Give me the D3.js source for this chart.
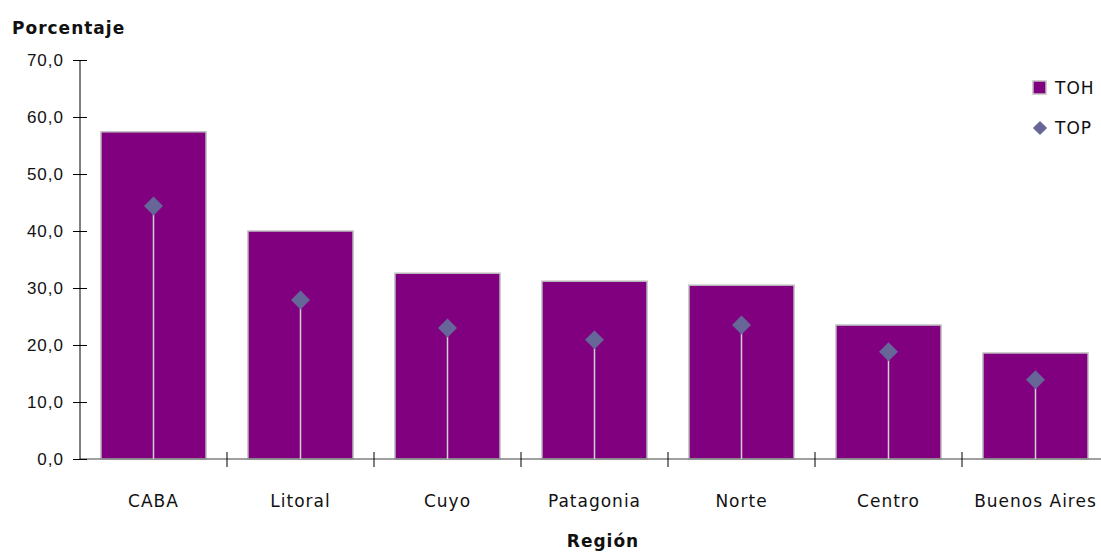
<!DOCTYPE html>
<html><head><meta charset="utf-8">
<script src="https://cdn.jsdelivr.net/npm/d3@7"></script>
<style>body{margin:0;background:#fff;}svg{display:block;font-family:"DejaVu Sans",sans-serif;}</style>
</head><body>
<svg id="c" width="1101" height="554"></svg>
<script>
const categories = ["CABA","Litoral","Cuyo","Patagonia","Norte","Centro","Buenos Aires"];
const toh = [57.4, 40.0, 32.6, 31.2, 30.5, 23.5, 18.6];
const top_ = [44.4, 27.9, 23.0, 20.9, 23.5, 18.8, 13.9];
const yTicks = [0,10,20,30,40,50,60,70];

const FS = 17, LS = 1;
const svg = d3.select("#c");
const x = d3.scaleBand().domain(categories).range([80,1109]).paddingInner(0.285).paddingOuter(0.1425);
const y = d3.scaleLinear().domain([0,70]).range([459,60]);
const fmt = v => d3.format(".1f")(v).replace(".", ",");

// bars
svg.append("g").selectAll("rect").data(categories).join("rect")
  .attr("x", d => x(d)).attr("width", x.bandwidth())
  .attr("y", (d,i) => y(toh[i])).attr("height", (d,i) => y(0) - y(toh[i]))
  .attr("fill", "#800080").attr("stroke", "#c0c0c0").attr("stroke-width", 1.5);

// x axis
svg.append("line").attr("x1", 80).attr("x2", 1101).attr("y1", 459).attr("y2", 459)
  .attr("stroke", "#808080").attr("stroke-width", 1.5);
const step = x.step();
const bounds = categories.slice(1).map(d => x(d) - x.paddingInner()*step/2);
svg.append("g").selectAll("line").data(bounds).join("line")
  .attr("x1", d => d).attr("x2", d => d).attr("y1", 452).attr("y2", 467)
  .attr("stroke", "#000").attr("stroke-width", 1);
svg.append("g").selectAll("text").data(categories).join("text")
  .attr("x", d => x(d) + x.bandwidth()/2).attr("y", 507)
  .attr("text-anchor", "middle").attr("font-size", FS).attr("letter-spacing", LS).attr("fill", "#111").text(d => d);

// y axis
const yAxis = d3.axisLeft(y).tickValues(yTicks).tickFormat(fmt).tickSize(7).tickPadding(9);
const ga = svg.append("g").attr("transform", "translate(80,0)").call(yAxis);
ga.select(".domain").attr("stroke", "#000").attr("d", "M0,60V459");
ga.selectAll(".tick line").attr("x1", 7).attr("x2", -7).attr("stroke", "#000");
ga.selectAll(".tick text").attr("font-size", FS).attr("letter-spacing", LS).attr("font-family", null).attr("fill", "#111").attr("dy", "0.3em");

// drop lines and diamonds
const cx = (d) => x(d) + x.bandwidth()/2;
svg.append("g").selectAll("line").data(categories).join("line")
  .attr("x1", cx).attr("x2", cx).attr("y1", (d,i) => y(top_[i])).attr("y2", y(0))
  .attr("stroke", "#d0d0d0").attr("stroke-width", 1.5);
const diamond = d3.symbol().type(d3.symbolSquare).size(180);
svg.append("g").selectAll("path").data(categories).join("path")
  .attr("d", diamond)
  .attr("transform", (d,i) => `translate(${cx(d)},${y(top_[i])}) rotate(45)`)
  .attr("fill", "#666699");

// titles
svg.append("text").attr("x", 12).attr("y", 34).attr("font-size", 17).attr("letter-spacing", 1).attr("font-weight", "bold").attr("fill", "#111").text("Porcentaje");
svg.append("text").attr("x", 603).attr("y", 547).attr("text-anchor", "middle").attr("font-size", 17).attr("letter-spacing", 1).attr("font-weight", "bold").attr("fill", "#111").text("Región");

// legend
const lg = svg.append("g");
lg.append("rect").attr("x", 1033).attr("y", 81).attr("width", 13).attr("height", 13)
  .attr("fill", "#800080").attr("stroke", "#c0c0c0").attr("stroke-width", 1.5);
lg.append("text").attr("x", 1055).attr("y", 94).attr("font-size", FS).attr("letter-spacing", LS).attr("fill", "#111").text("TOH");
lg.append("path").attr("d", d3.symbol().type(d3.symbolSquare).size(100))
  .attr("transform", "translate(1040,128) rotate(45)").attr("fill", "#666699");
lg.append("text").attr("x", 1055).attr("y", 134).attr("font-size", FS).attr("letter-spacing", LS).attr("fill", "#111").text("TOP");
</script>
</body></html>
